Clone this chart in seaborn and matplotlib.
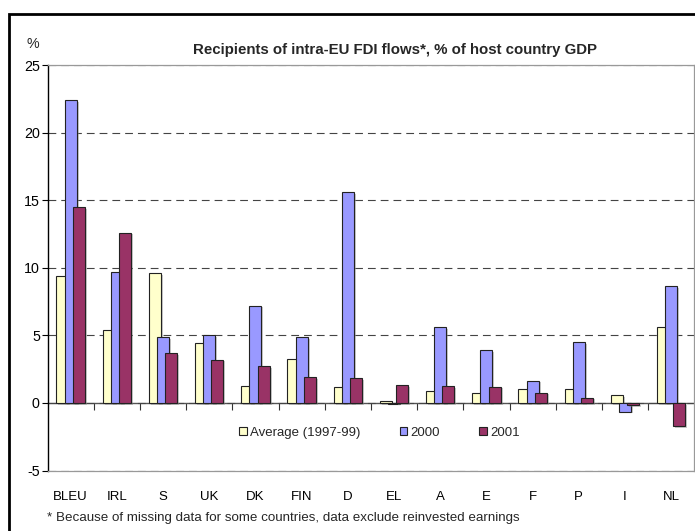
import numpy as np
import pandas as pd
import matplotlib
matplotlib.use("Agg")
import matplotlib.pyplot as plt
import seaborn as sns
from matplotlib import patheffects
from matplotlib.patches import Rectangle

# Recipients of intra-EU FDI flows, % of host country GDP
countries = ["BLEU", "IRL", "S", "UK", "DK", "FIN", "D", "EL", "A", "E", "F", "P", "I", "NL"]
series_names = ["Average (1997-99)", "2000", "2001"]
avg_1997_99 = [9.4, 5.4, 9.6, 4.4, 1.25, 3.25, 1.2, 0.15, 0.9, 0.75, 1.05, 1.0, 0.55, 5.6]
flows_2000 = [22.4, 9.7, 4.85, 5.0, 7.2, 4.85, 15.6, -0.05, 5.6, 3.9, 1.65, 4.5, -0.65, 8.65]
flows_2001 = [14.5, 12.6, 3.7, 3.2, 2.7, 1.9, 1.85, 1.3, 1.25, 1.2, 0.75, 0.4, -0.15, -1.7]
y_ticks = [-5, 0, 5, 10, 15, 20, 25]

colors = ["#FFFFCC", "#9999FF", "#993366"]

df = pd.DataFrame({
    "country": countries * 3,
    "series": np.repeat(series_names, len(countries)),
    "value": avg_1997_99 + flows_2000 + flows_2001,
})

sns.set_style("white")
plt.rcParams["font.family"] = ["Liberation Sans", "DejaVu Sans"]
plt.rcParams["axes.unicode_minus"] = False

fig = plt.figure(figsize=(6.95, 5.31), dpi=100)
ax = fig.add_axes([47.5 / 695, 1 - 470.5 / 531, (694.3 - 47.5) / 695, (470.5 - 65) / 531])

sns.barplot(data=df, x="country", y="value", hue="series", hue_order=series_names,
            palette=colors, saturation=1, width=0.533, edgecolor="#222222",
            linewidth=0.8, ax=ax, legend=True)

# overlapping bars: each bar widened around its own centre, later series on top
bar_w = 0.26
shadow = [patheffects.withSimplePatchShadow(offset=(1.5, -1.2), shadow_rgbFace="#888888", alpha=0.45)]
for i, cont in enumerate(ax.containers):
    for bar in cont:
        cx = bar.get_x() + bar.get_width() / 2
        bar.set_width(bar_w)
        bar.set_x(cx - bar_w / 2)
        bar.set_zorder(3 + i)
        bar.set_path_effects(shadow)

ymin, ymax = -5, 25
ax.set_ylim(ymin, ymax)
ax.set_xlim(-0.5, len(countries) - 0.5)
ax.set_yticks(y_ticks)
ax.set_xlabel("")
ax.set_ylabel("")

ax.yaxis.grid(True, linestyle=(0, (7, 4.5)), color="#444444", linewidth=0.8)
ax.set_axisbelow(True)

for side in ["top", "right", "bottom"]:
    ax.spines[side].set_color("#999999")
    ax.spines[side].set_linewidth(0.9)
ax.spines["left"].set_color("black")
ax.spines["left"].set_linewidth(1.0)

ax.tick_params(axis="y", direction="out", length=4, width=0.8, color="black",
               pad=1.5, labelsize=10.3, labelcolor="black", left=True)
ax.tick_params(axis="x", length=0, pad=15, labelsize=9.5, labelcolor="black")

# category axis at zero with tick marks between groups
sec = ax.secondary_xaxis((0 - ymin) / (ymax - ymin))
sec.set_xticks(np.arange(0.5, len(countries) - 0.5, 1.0))
sec.set_xticklabels([])
sec.tick_params(direction="out", length=5, width=0.8, color="#333333")
sec.spines["bottom"].set_color("#555555")
sec.spines["bottom"].set_linewidth(1.0)

sns.move_legend(ax, loc="center", bbox_to_anchor=(379.5 / 695, 1 - 433 / 531),
                bbox_transform=fig.transFigure, ncol=3, frameon=False, title=None,
                fontsize=9.5, handlelength=0.55, handleheight=0.55, handletextpad=0.25,
                columnspacing=3.0)

fig.text(395 / 695, 1 - 50 / 531, "Recipients of intra-EU FDI flows*, % of host country GDP",
         ha="center", va="center", fontsize=10.8, fontweight="bold")
fig.text(33 / 695, 1 - 44 / 531, "%", ha="center", va="center", fontsize=10.3)
fig.text(47 / 695, 1 - 518 / 531,
         "* Because of missing data for some countries, data exclude reinvested earnings",
         ha="left", va="center", fontsize=9.6)

fig.add_artist(Rectangle((8.5 / 695, -0.1), 1.2, (1 - 14 / 531) + 0.1,
                         transform=fig.transFigure, fill=False, lw=2, ec="black"))

fig.savefig("out.png", dpi=100)
